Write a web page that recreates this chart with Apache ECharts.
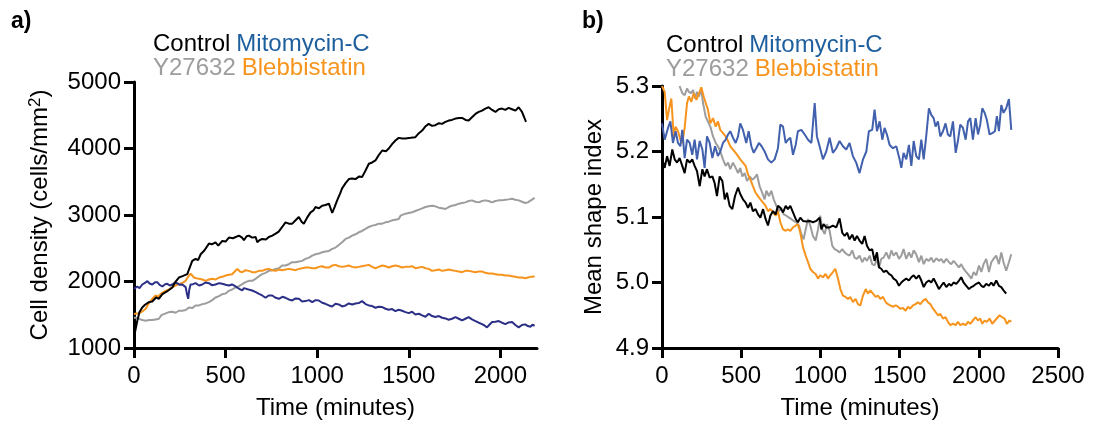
<!DOCTYPE html>
<html>
<head>
<meta charset="utf-8">
<script src="https://cdn.jsdelivr.net/npm/echarts@6/dist/echarts.min.js"></script>
<style>
html,body{margin:0;padding:0;background:#fff;}
#chart{width:1099px;height:425px;}
</style>
</head>
<body>
<div id="chart"></div>
<script>
// ---------- Panel a) Cell density (cells/mm2) vs time (minutes) ----------
const densityControl = [[0,1160],[10,1300],[18,1410],[30,1540],[45,1610],[60,1650],[82,1690],[100,1700],[120,1760],[135,1740],[155,1810],[180,1850],[209,1910],[225,1990],[245,2060],[265,2080],[291,2110],[300,2180],[318,2310],[336,2340],[350,2320],[364,2410],[385,2470],[409,2570],[425,2560],[445,2590],[460,2540],[482,2610],[500,2600],[518,2660],[540,2650],[573,2690],[590,2660],[600,2620],[615,2680],[627,2690],[645,2660],[664,2670],[673,2590],[685,2620],[700,2640],[720,2630],[736,2670],[755,2690],[773,2720],[790,2750],[809,2820],[827,2890],[845,2870],[864,2870],[882,2920],[900,2970],[915,2900],[927,2870],[945,2960],[964,3040],[980,3070],[991,3120],[1010,3100],[1027,3140],[1045,3150],[1064,3170],[1082,3030],[1095,3120],[1109,3220],[1125,3320],[1136,3400],[1155,3480],[1173,3540],[1190,3550],[1209,3540],[1230,3580],[1245,3570],[1264,3670],[1282,3770],[1300,3790],[1318,3820],[1336,3900],[1355,3970],[1375,3960],[1391,4000],[1410,4070],[1427,4120],[1445,4160],[1465,4150],[1482,4150],[1510,4160],[1536,4170],[1555,4230],[1573,4270],[1590,4330],[1609,4370],[1627,4340],[1645,4350],[1665,4380],[1682,4370],[1700,4400],[1718,4420],[1735,4430],[1755,4450],[1775,4460],[1791,4460],[1810,4430],[1827,4420],[1845,4470],[1864,4520],[1882,4550],[1900,4570],[1918,4600],[1936,4620],[1955,4580],[1973,4550],[1991,4590],[2009,4600],[2027,4580],[2045,4610],[2064,4590],[2082,4570],[2100,4620],[2109,4650],[2118,4550],[2130,4470],[2140,4400]];
const densityMitomycin = [[0,1890],[10,1910],[18,1925],[30,1900],[45,1955],[60,1980],[73,2005],[85,1970],[100,1955],[115,1990],[127,1990],[140,1950],[155,1925],[170,1960],[182,1965],[195,1940],[209,1955],[222,1980],[236,1975],[250,1950],[264,1955],[274,1930],[282,1915],[290,1800],[296,1740],[302,1880],[309,1955],[322,1960],[336,1975],[355,1940],[373,1955],[390,1985],[409,1975],[425,1945],[445,1955],[465,1975],[482,1965],[500,1950],[518,1940],[535,1955],[555,1925],[575,1890],[591,1865],[600,1900],[609,1915],[625,1880],[645,1865],[665,1840],[682,1815],[700,1790],[718,1755],[735,1790],[755,1790],[770,1760],[791,1740],[810,1770],[827,1755],[845,1730],[864,1715],[882,1745],[900,1740],[918,1700],[936,1705],[955,1720],[973,1690],[991,1720],[1009,1715],[1027,1680],[1045,1665],[1064,1640],[1082,1625],[1100,1665],[1118,1655],[1136,1625],[1155,1640],[1173,1670],[1191,1655],[1209,1670],[1227,1675],[1245,1705],[1264,1660],[1282,1640],[1300,1630],[1318,1605],[1336,1620],[1355,1615],[1373,1590],[1391,1575],[1409,1585],[1427,1555],[1445,1575],[1464,1560],[1482,1540],[1500,1525],[1518,1545],[1536,1505],[1555,1515],[1573,1490],[1591,1470],[1609,1515],[1627,1480],[1645,1465],[1664,1480],[1682,1455],[1700,1445],[1718,1425],[1736,1440],[1755,1465],[1773,1440],[1791,1415],[1809,1440],[1827,1465],[1845,1430],[1864,1405],[1882,1380],[1900,1360],[1915,1335],[1927,1310],[1940,1350],[1955,1390],[1973,1395],[1991,1405],[2009,1380],[2027,1360],[2045,1385],[2064,1390],[2082,1345],[2100,1310],[2118,1345],[2136,1355],[2150,1330],[2164,1320],[2175,1350],[2187,1335]];
const densityY27632 = [[0,1460],[14,1450],[27,1440],[45,1420],[64,1410],[82,1420],[100,1420],[118,1430],[136,1440],[150,1495],[155,1510],[173,1520],[191,1540],[210,1545],[227,1530],[245,1560],[264,1560],[282,1570],[300,1610],[318,1600],[336,1640],[355,1640],[373,1660],[391,1670],[409,1690],[427,1720],[445,1760],[464,1780],[482,1810],[500,1820],[518,1860],[536,1880],[555,1910],[573,1930],[591,1960],[609,1990],[627,2010],[645,2010],[664,2040],[682,2080],[700,2110],[718,2130],[736,2160],[755,2170],[773,2190],[791,2200],[809,2240],[827,2240],[845,2260],[864,2290],[882,2290],[900,2300],[918,2310],[936,2340],[955,2360],[973,2390],[991,2410],[1009,2420],[1027,2440],[1045,2450],[1064,2460],[1082,2490],[1100,2510],[1118,2550],[1136,2590],[1155,2640],[1173,2660],[1191,2690],[1209,2710],[1227,2740],[1245,2760],[1264,2790],[1282,2820],[1300,2840],[1318,2850],[1336,2870],[1355,2870],[1373,2890],[1391,2900],[1409,2920],[1427,2930],[1445,2940],[1455,2990],[1464,2990],[1482,3020],[1500,3030],[1518,3040],[1536,3060],[1555,3080],[1573,3100],[1591,3120],[1609,3130],[1627,3140],[1645,3130],[1664,3110],[1682,3100],[1700,3090],[1718,3120],[1736,3140],[1755,3150],[1773,3170],[1791,3180],[1809,3190],[1827,3210],[1845,3220],[1864,3200],[1882,3190],[1900,3210],[1918,3220],[1936,3210],[1955,3190],[1973,3210],[1991,3220],[2009,3220],[2027,3230],[2045,3235],[2064,3245],[2082,3230],[2100,3220],[2118,3200],[2136,3180],[2150,3190],[2164,3215],[2175,3235],[2187,3260]];
const densityBlebbistatin = [[0,1510],[14,1520],[27,1520],[45,1550],[64,1590],[82,1680],[100,1740],[118,1790],[131,1770],[145,1810],[160,1840],[173,1860],[190,1880],[209,1910],[227,1940],[245,1960],[264,1980],[282,2010],[295,2070],[309,2120],[318,2090],[327,2060],[340,2050],[355,2040],[373,2030],[391,2010],[409,2030],[427,2040],[445,2030],[464,2060],[482,2070],[500,2090],[518,2100],[536,2110],[550,2150],[564,2190],[578,2150],[591,2140],[609,2170],[627,2160],[645,2140],[664,2140],[682,2160],[700,2160],[718,2180],[736,2190],[755,2170],[773,2160],[791,2180],[809,2170],[827,2180],[845,2190],[864,2180],[882,2170],[900,2190],[918,2200],[936,2210],[955,2210],[973,2200],[991,2200],[1009,2220],[1027,2230],[1045,2210],[1064,2210],[1082,2240],[1100,2250],[1118,2230],[1136,2220],[1155,2230],[1173,2240],[1191,2220],[1209,2210],[1227,2220],[1245,2230],[1264,2240],[1282,2250],[1300,2220],[1318,2200],[1336,2220],[1355,2240],[1373,2230],[1391,2210],[1409,2230],[1427,2240],[1445,2230],[1464,2210],[1482,2220],[1500,2220],[1518,2230],[1536,2200],[1555,2210],[1573,2220],[1591,2200],[1609,2190],[1627,2160],[1645,2170],[1664,2180],[1682,2160],[1700,2170],[1718,2180],[1736,2170],[1755,2160],[1773,2150],[1791,2140],[1809,2160],[1827,2160],[1845,2150],[1864,2140],[1882,2150],[1900,2150],[1918,2130],[1936,2120],[1955,2120],[1973,2110],[1991,2100],[2009,2100],[2027,2090],[2045,2090],[2064,2080],[2082,2070],[2100,2060],[2118,2060],[2136,2050],[2150,2060],[2164,2070],[2175,2070],[2187,2080]];

// ---------- Panel b) Mean shape index vs time (minutes) ----------
const shapeControl = [[0,5.190],[17,5.175],[32,5.193],[48,5.178],[65,5.203],[80,5.188],[95,5.183],[111,5.190],[128,5.178],[143,5.167],[158,5.188],[175,5.183],[191,5.188],[206,5.178],[221,5.170],[238,5.147],[255,5.173],[269,5.162],[284,5.173],[301,5.160],[318,5.162],[332,5.152],[347,5.132],[364,5.162],[381,5.155],[396,5.127],[410,5.137],[427,5.117],[444,5.112],[461,5.132],[480,5.145],[494,5.135],[511,5.127],[528,5.122],[543,5.114],[558,5.122],[574,5.109],[591,5.112],[606,5.104],[621,5.099],[638,5.112],[654,5.097],[669,5.087],[684,5.102],[701,5.109],[717,5.104],[732,5.117],[747,5.114],[764,5.107],[781,5.117],[795,5.112],[810,5.117],[827,5.107],[844,5.097],[858,5.092],[873,5.099],[890,5.094],[911,5.093],[932,5.094],[953,5.092],[974,5.094],[995,5.099],[1006,5.081],[1020,5.089],[1037,5.084],[1058,5.084],[1079,5.087],[1100,5.084],[1121,5.098],[1138,5.076],[1153,5.071],[1168,5.076],[1184,5.066],[1201,5.073],[1216,5.064],[1231,5.071],[1247,5.064],[1264,5.059],[1279,5.071],[1294,5.056],[1311,5.049],[1327,5.051],[1342,5.033],[1357,5.046],[1370,5.023],[1384,5.021],[1399,5.016],[1416,5.018],[1433,5.013],[1448,5.011],[1462,5.006],[1479,5.003],[1496,4.995],[1511,5.000],[1525,5.003],[1542,5.006],[1559,5.003],[1574,5.008],[1589,5.011],[1605,5.006],[1622,5.011],[1637,5.003],[1652,4.993],[1668,5.000],[1685,5.003],[1700,5.000],[1715,5.006],[1732,4.998],[1748,4.990],[1763,4.995],[1778,5.000],[1795,4.993],[1812,4.998],[1826,4.995],[1841,5.000],[1858,4.998],[1875,5.003],[1889,5.008],[1904,5.000],[1921,4.995],[1938,4.990],[1953,4.993],[1968,4.995],[1984,4.998],[2001,5.000],[2016,4.995],[2030,4.993],[2047,4.998],[2064,4.995],[2079,5.000],[2093,4.995],[2110,5.003],[2127,4.995],[2142,4.993],[2156,4.988],[2173,4.983]];
const shapeMitomycin = [[0,5.243],[17,5.218],[38,5.236],[53,5.246],[69,5.213],[86,5.231],[101,5.213],[116,5.208],[128,5.233],[143,5.190],[158,5.218],[175,5.213],[191,5.195],[206,5.218],[221,5.188],[238,5.216],[255,5.203],[269,5.175],[284,5.223],[301,5.213],[318,5.190],[335,5.208],[353,5.193],[368,5.200],[385,5.213],[402,5.218],[417,5.226],[431,5.231],[448,5.221],[465,5.213],[480,5.223],[494,5.243],[511,5.233],[532,5.213],[547,5.231],[564,5.208],[579,5.198],[595,5.205],[612,5.213],[629,5.208],[648,5.200],[669,5.188],[690,5.183],[711,5.188],[732,5.205],[747,5.241],[764,5.238],[781,5.213],[795,5.218],[810,5.221],[827,5.195],[844,5.210],[858,5.231],[880,5.233],[901,5.226],[922,5.218],[943,5.213],[964,5.274],[978,5.223],[995,5.208],[1016,5.188],[1037,5.200],[1058,5.221],[1079,5.198],[1100,5.205],[1121,5.216],[1142,5.208],[1163,5.203],[1184,5.213],[1205,5.193],[1226,5.183],[1247,5.167],[1269,5.188],[1290,5.200],[1306,5.231],[1327,5.233],[1342,5.264],[1357,5.231],[1374,5.246],[1391,5.218],[1405,5.236],[1420,5.226],[1437,5.210],[1458,5.205],[1479,5.208],[1500,5.188],[1511,5.175],[1525,5.198],[1542,5.188],[1559,5.210],[1574,5.178],[1589,5.216],[1605,5.193],[1622,5.188],[1637,5.218],[1652,5.188],[1668,5.223],[1685,5.266],[1700,5.256],[1715,5.251],[1727,5.238],[1742,5.246],[1757,5.223],[1774,5.231],[1790,5.243],[1805,5.226],[1820,5.223],[1837,5.246],[1854,5.198],[1868,5.216],[1883,5.241],[1900,5.236],[1917,5.218],[1932,5.246],[1946,5.251],[1963,5.218],[1980,5.251],[1995,5.226],[2009,5.241],[2022,5.266],[2037,5.259],[2051,5.248],[2068,5.226],[2085,5.228],[2102,5.231],[2114,5.254],[2127,5.231],[2142,5.271],[2156,5.259],[2173,5.266],[2190,5.280],[2205,5.233]];
const shapeY27632 = [[111,5.300],[128,5.289],[143,5.286],[158,5.296],[170,5.291],[183,5.289],[196,5.294],[208,5.281],[221,5.291],[234,5.284],[248,5.296],[259,5.274],[276,5.253],[290,5.246],[305,5.238],[322,5.223],[339,5.213],[353,5.208],[368,5.200],[385,5.188],[402,5.178],[417,5.183],[431,5.173],[448,5.183],[465,5.175],[480,5.167],[494,5.175],[507,5.162],[522,5.167],[537,5.155],[553,5.162],[570,5.157],[585,5.160],[600,5.165],[616,5.147],[633,5.137],[648,5.127],[659,5.140],[675,5.132],[690,5.140],[705,5.127],[722,5.117],[738,5.109],[753,5.114],[768,5.104],[785,5.102],[802,5.099],[816,5.097],[831,5.094],[848,5.092],[865,5.087],[879,5.074],[894,5.066],[907,5.081],[922,5.097],[936,5.087],[953,5.071],[970,5.064],[985,5.081],[999,5.102],[1012,5.081],[1027,5.074],[1041,5.089],[1058,5.079],[1075,5.056],[1090,5.051],[1105,5.049],[1121,5.046],[1138,5.051],[1153,5.046],[1168,5.043],[1184,5.041],[1201,5.049],[1216,5.038],[1231,5.036],[1247,5.041],[1264,5.031],[1279,5.038],[1294,5.033],[1311,5.041],[1327,5.028],[1342,5.026],[1357,5.036],[1370,5.023],[1384,5.036],[1399,5.038],[1416,5.046],[1433,5.036],[1448,5.049],[1462,5.041],[1479,5.046],[1496,5.036],[1511,5.041],[1525,5.051],[1542,5.036],[1559,5.046],[1574,5.038],[1589,5.049],[1605,5.043],[1622,5.031],[1637,5.041],[1652,5.028],[1668,5.036],[1685,5.033],[1700,5.038],[1715,5.031],[1732,5.037],[1748,5.033],[1763,5.036],[1778,5.030],[1795,5.036],[1812,5.031],[1826,5.028],[1841,5.033],[1858,5.028],[1875,5.023],[1889,5.028],[1904,5.021],[1921,5.016],[1938,5.011],[1953,5.006],[1968,5.016],[1984,5.011],[2001,5.026],[2016,5.016],[2030,5.028],[2047,5.036],[2064,5.016],[2079,5.031],[2093,5.036],[2110,5.041],[2127,5.028],[2142,5.046],[2156,5.031],[2173,5.018],[2190,5.031],[2205,5.043]];
const shapeBlebbistatin = [[0,5.300],[17,5.291],[32,5.248],[44,5.264],[59,5.281],[74,5.223],[86,5.238],[101,5.231],[116,5.218],[128,5.213],[143,5.236],[158,5.274],[170,5.284],[185,5.276],[200,5.289],[217,5.279],[234,5.289],[248,5.298],[263,5.284],[276,5.274],[290,5.264],[305,5.243],[322,5.251],[339,5.238],[353,5.246],[368,5.233],[385,5.228],[402,5.223],[417,5.216],[431,5.208],[448,5.203],[465,5.198],[480,5.193],[494,5.188],[511,5.183],[528,5.178],[543,5.165],[558,5.157],[574,5.147],[591,5.137],[606,5.132],[621,5.127],[638,5.122],[654,5.117],[669,5.109],[684,5.112],[701,5.107],[717,5.102],[732,5.109],[747,5.092],[764,5.081],[781,5.079],[795,5.081],[810,5.079],[827,5.084],[844,5.087],[858,5.089],[873,5.076],[890,5.054],[907,5.041],[922,5.031],[936,5.021],[953,5.016],[970,5.013],[985,5.006],[999,5.011],[1016,5.008],[1033,5.013],[1048,5.006],[1062,5.011],[1079,5.016],[1094,5.021],[1111,5.006],[1126,4.990],[1142,4.980],[1159,4.978],[1174,4.975],[1189,4.978],[1205,4.970],[1222,4.975],[1237,4.967],[1252,4.965],[1269,4.980],[1286,4.990],[1300,4.983],[1315,4.988],[1332,4.983],[1349,4.978],[1363,4.980],[1378,4.975],[1395,4.978],[1412,4.970],[1427,4.967],[1441,4.965],[1458,4.963],[1475,4.965],[1490,4.963],[1504,4.960],[1521,4.961],[1538,4.957],[1553,4.963],[1567,4.960],[1584,4.965],[1601,4.967],[1616,4.970],[1631,4.967],[1647,4.972],[1664,4.975],[1679,4.970],[1694,4.967],[1711,4.960],[1727,4.955],[1742,4.950],[1757,4.952],[1774,4.945],[1790,4.947],[1805,4.940],[1820,4.935],[1837,4.937],[1854,4.935],[1868,4.940],[1883,4.935],[1900,4.937],[1917,4.935],[1932,4.940],[1946,4.937],[1963,4.942],[1980,4.947],[1995,4.942],[2009,4.945],[2022,4.937],[2037,4.942],[2051,4.940],[2068,4.945],[2085,4.937],[2102,4.942],[2114,4.945],[2131,4.950],[2148,4.947],[2163,4.945],[2177,4.937],[2194,4.942],[2205,4.940]];

// ---------- Axis ticks ----------
const timeTicksA = [0, 500, 1000, 1500, 2000];
const densityTicks = [1000, 2000, 3000, 4000, 5000];
const timeTicksB = [0, 500, 1000, 1500, 2000, 2500];
const shapeTicks = [4.9, 5.0, 5.1, 5.2, 5.3];

const FONT = "'Liberation Sans', Arial, Helvetica, sans-serif";
const C = { control:'#000000', mito:'#1f5f9e', mitoLineA:'#2b2f86', mitoLineB:'#4160ad', y27:'#9d9d9d', bleb:'#f7941d' };

function axisCommon() {
  return {
    axisLine:{show:true, onZero:false, lineStyle:{color:'#000', width:3}},
    axisTick:{show:true, length:10, lineStyle:{color:'#000', width:3}},
    splitLine:{show:false},
    axisLabel:{color:'#000', fontSize:24, fontFamily:FONT},
    nameTextStyle:{color:'#000', fontSize:24, fontFamily:FONT}
  };
}
function xAx(idx, max, ticks, gap) {
  const a = axisCommon();
  return Object.assign(a, {
    type:'value', gridIndex:idx, min:0, max:max, interval:500,
    name:'Time (minutes)', nameLocation:'middle', nameGap:gap,
    axisTick:Object.assign(a.axisTick, {customValues:ticks}),
    axisLabel:Object.assign(a.axisLabel, {customValues:ticks, margin:16, formatter:v=>String(v)})
  });
}
function legendRow(left, top, names, colors) {
  return {
    left:left, top:top, orient:'horizontal', selectedMode:false,
    itemWidth:0, itemHeight:0, itemGap:1, padding:0,
    itemStyle:{opacity:0}, lineStyle:{opacity:0},
    textStyle:{fontSize:24, fontFamily:FONT},
    data:names.map((n,i)=>({name:n, icon:'rect', textStyle:{color:colors[i], fontSize:24, fontFamily:FONT}}))
  };
}
function line(name, data, color, xi, w) {
  return { type:'line', name:name, data:data, xAxisIndex:xi, yAxisIndex:xi,
    showSymbol:false, symbol:'none', color:color,
    lineStyle:{color:color, width:w}, clip:true, animation:false, z:3 };
}

const chart = echarts.init(document.getElementById('chart'), null, {renderer:'canvas'});
const ya = axisCommon();
const yb = axisCommon();
chart.setOption({
  backgroundColor:'#fff',
  animation:false,
  title:[
    {text:'a)', left:11, top:10, padding:0, textStyle:{fontSize:23, fontWeight:'bold', color:'#000', fontFamily:FONT}},
    {text:'b)', left:582, top:10, padding:0, textStyle:{fontSize:23, fontWeight:'bold', color:'#000', fontFamily:FONT}}
  ],
  legend:[
    legendRow(148, 32, ['Control','Mitomycin-C'], [C.control, C.mito]),
    legendRow(148, 56, ['Y27632','Blebbistatin'], [C.y27, C.bleb]),
    legendRow(661, 33, ['Control','Mitomycin-C'], [C.control, C.mito]),
    legendRow(661, 57, ['Y27632','Blebbistatin'], [C.y27, C.bleb])
  ],
  grid:[
    {left:134, top:82, width:403, height:267, containLabel:false},
    {left:662, top:86, width:396, height:263, containLabel:false}
  ],
  xAxis:[ xAx(0, 2200, timeTicksA, 48), xAx(1, 2500, timeTicksB, 48) ],
  yAxis:[
    Object.assign(ya, {
      type:'value', gridIndex:0, min:1000, max:5000, interval:1000,
      name:'Cell density (cells/mm{sup|2})', nameLocation:'middle', nameGap:80,
      nameTextStyle:{color:'#000', fontSize:24, fontFamily:FONT,
        rich:{sup:{fontSize:17, fontFamily:FONT, color:'#000', verticalAlign:'top', padding:[0,0,10,0]}}},
      axisTick:Object.assign(ya.axisTick, {customValues:densityTicks}),
      axisLabel:Object.assign(ya.axisLabel, {customValues:densityTicks, margin:13, formatter:v=>String(v)})
    }),
    Object.assign(yb, {
      type:'value', gridIndex:1, min:4.9, max:5.3, interval:0.1,
      name:'Mean shape index', nameLocation:'middle', nameGap:56,
      axisTick:Object.assign(yb.axisTick, {customValues:shapeTicks}),
      axisLabel:Object.assign(yb.axisLabel, {customValues:shapeTicks, margin:13, formatter:v=>Number(v).toFixed(1)})
    })
  ],
  series:[
    line('Y27632', densityY27632, C.y27, 0, 2),
    line('Blebbistatin', densityBlebbistatin, C.bleb, 0, 2),
    line('Mitomycin-C', densityMitomycin, C.mitoLineA, 0, 2),
    line('Control', densityControl, C.control, 0, 2),
    line('Y27632', shapeY27632, C.y27, 1, 2),
    line('Blebbistatin', shapeBlebbistatin, C.bleb, 1, 2),
    line('Control', shapeControl, C.control, 1, 2),
    line('Mitomycin-C', shapeMitomycin, C.mitoLineB, 1, 2)
  ]
});
</script>
</body>
</html>
